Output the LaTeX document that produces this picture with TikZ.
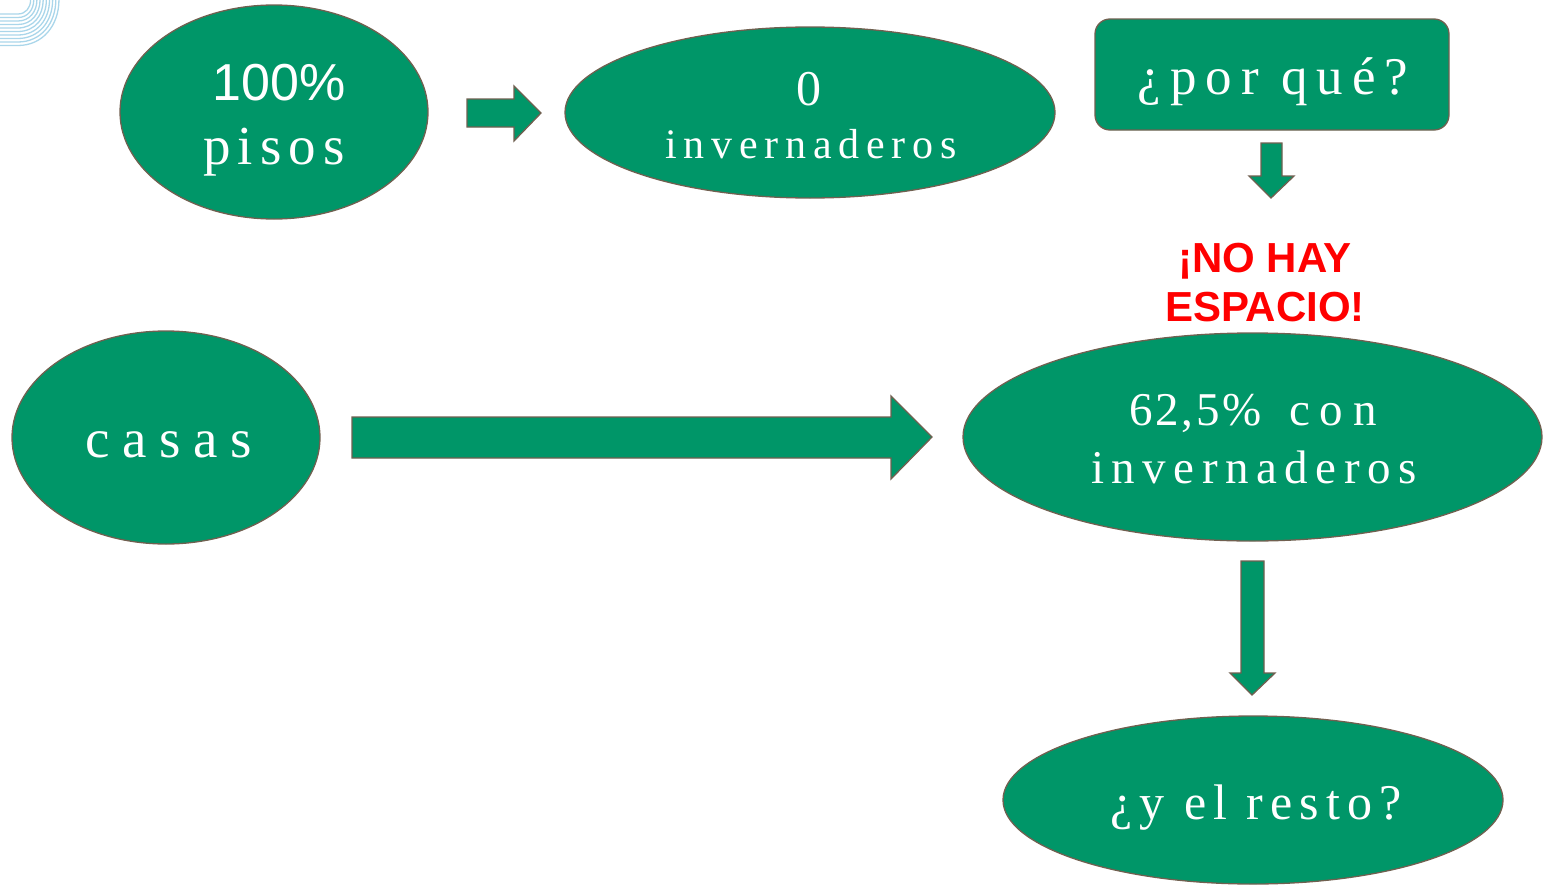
\documentclass[tikz,border=0pt]{standalone}
\usepackage{fontspec}
\setmainfont{Liberation Serif}
\newfontfamily\arialf{Liberation Sans}
\newfontfamily\serM[LetterSpace=6]{Liberation Serif}
\newfontfamily\serN[LetterSpace=13]{Liberation Serif}
\newfontfamily\serO[LetterSpace=14]{Liberation Serif}
\newfontfamily\serP[LetterSpace=16]{Liberation Serif}
\newfontfamily\serQ[LetterSpace=17]{Liberation Serif}
\newfontfamily\serR[LetterSpace=21]{Liberation Serif}
\newfontfamily\serS[LetterSpace=23]{Liberation Serif}
\usetikzlibrary{shapes.geometric}
\definecolor{gfill}{RGB}{0,150,104}
\definecolor{gdraw}{RGB}{112,96,80}
\definecolor{deco}{RGB}{170,214,234}
\tikzset{
  ell/.style={ellipse, fill=gfill, draw=gdraw, line width=1.3, inner sep=0},
  rbox/.style={rectangle, rounded corners=15, fill=gfill, draw=gdraw, line width=1.3, inner sep=0},
  blockarrow/.style={fill=gfill, draw=gdraw, line width=1.3, line join=miter},
  wtxt/.style={text=white, anchor=base, inner sep=0},
  rtxt/.style={text=red, anchor=base, inner sep=0, font=\arialf\bfseries\fontsize{42}{48}\selectfont}
}
\begin{document}
\begin{tikzpicture}[x=1pt,y=-1pt]
\useasboundingbox (0,0) rectangle (1547,886);
% decoration
\foreach \r in {14,17.5,21,24.5,28,31.5,35,38.5,42,45.5}{
  \draw[deco, line width=1.3] (0,\r) -- (18,\r) .. controls (18+0.55*\r,\r) and (18+0.9*\r,0.55*\r) .. (18+0.9*\r,0);
}
% shapes
\node[ell, minimum width=308, minimum height=214] (pisos) at (274,112) {};
\node[ell, minimum width=490, minimum height=171] (inv0) at (810,112.5) {};
\node[rbox, minimum width=354, minimum height=111] (porque) at (1272,74.5) {};
\node[ell, minimum width=308, minimum height=213] (casas) at (166,437.5) {};
\node[ell, minimum width=579, minimum height=208] (inv62) at (1252.5,437) {};
\node[ell, minimum width=500, minimum height=168] (resto) at (1253,800) {};
% block arrows
\draw[blockarrow] (467,99) -- (514,99) -- (514,86) -- (541,113) -- (514,141) -- (514,127) -- (467,127) -- cycle;
\draw[blockarrow] (1261,143) -- (1282,143) -- (1282,176) -- (1294,176) -- (1271,198) -- (1249,176) -- (1261,176) -- cycle;
\draw[blockarrow] (352,417) -- (891,417) -- (891,396) -- (932,437) -- (891,479) -- (891,458) -- (352,458) -- cycle;
\draw[blockarrow] (1241,561) -- (1264,561) -- (1264,673) -- (1275,673) -- (1252,695) -- (1230,673) -- (1241,673) -- cycle;
% texts
\node[wtxt, font=\arialf\fontsize{52}{60}\selectfont] (t100) at (279,100) {100\%};
\node[wtxt, font=\serN\fontsize{55}{60}\selectfont] (tpisos) at (274,164) {pisos};
\node[wtxt, font=\fontsize{50}{60}\selectfont] (t0) at (809,105) {0};
\node[wtxt, font=\serP\fontsize{42}{48}\selectfont] (tinv0) at (811,158) {invernaderos};
\node[wtxt, font=\serQ\fontsize{53}{56}\selectfont] (tporque) at (1273,94) {¿por qué?};
\node[wtxt, font=\serS\fontsize{55}{60}\selectfont] (tcasas) at (169,457) {casas};
\node[wtxt, anchor=base west, font=\serM\fontsize{47}{52}\selectfont] (t62) at (1129,425) {62,5\%};
\node[wtxt, anchor=base east, font=\serR\fontsize{47}{52}\selectfont] (tcon) at (1377,425) {con};
\node[wtxt, font=\serP\fontsize{47}{52}\selectfont] (tinv62) at (1254,483) {invernaderos};
\node[wtxt, font=\serO\fontsize{50}{56}\selectfont] (tresto) at (1256,819) {¿y el resto?};
\node[rtxt] (nohay) at (1265,272) {¡NO HAY};
\node[rtxt] (espacio) at (1265,321) {ESPACIO!};
\end{tikzpicture}
\end{document}
